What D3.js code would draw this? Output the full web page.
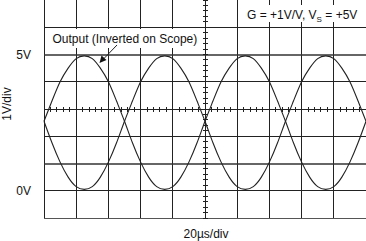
<!DOCTYPE html>
<html><head><meta charset="utf-8">
<script src="https://cdn.jsdelivr.net/npm/d3@7"></script>
<style>
html,body{margin:0;padding:0;background:#fff;}
svg{display:block;font-family:"Liberation Sans",Arial,Helvetica,sans-serif;}
</style></head>
<body>
<svg id="c" width="366" height="241"></svg>
<script>
// ---- data ----
const timeUs = [0,5,10,15,20,25,30,35,40,45,50,55,60,65,70,75,80,85,90,95,100,
                105,110,115,120,125,130,135,140,145,150,155,160,165,170,175,180,185,190,195,200];
const traceA = [2.55,3.3,4.0,4.5,4.85,4.95,4.85,4.5,4.0,3.3,2.55,1.75,1.05,0.5,0.15,0.05,0.15,0.5,1.05,1.75,2.55,
                3.3,4.0,4.5,4.85,4.95,4.85,4.5,4.0,3.3,2.55,1.75,1.05,0.5,0.15,0.05,0.15,0.5,1.05,1.75,2.55];
const traceB = [2.55,1.75,1.05,0.5,0.15,0.05,0.15,0.5,1.05,1.75,2.55,3.3,4.0,4.5,4.85,4.95,4.85,4.5,4.0,3.3,2.55,
                1.75,1.05,0.5,0.15,0.05,0.15,0.5,1.05,1.75,2.55,3.3,4.0,4.5,4.85,4.95,4.85,4.5,4.0,3.3,2.55];
const xDivs = [0,20,40,60,80,100,120,140,160,180];
const yDivs = [0,1,2,3,4,5,6];
const thickDivs = [1,5];
const yLabels = [{v:5,t:"5V"},{v:0,t:"0V"}];
const xTitle = "20µs/div";
const yTitle = "1V/div";
const annotation = "Output (Inverted on Scope)";
const legendMain = "G = +1V/V, V";
const legendSub = "S";
const legendTail = " = +5V";

// ---- scales ----
const svg = d3.select("#c");
const x = d3.scaleLinear().domain([0,200]).range([44,366]);
const y = d3.scaleLinear().domain([-1,7]).range([218,0]);
const crisp = v => Math.floor(v)+0.5;

const g = svg.append("g");
// vertical grid
g.selectAll("line.vx").data(xDivs).join("line")
  .attr("x1",d=>crisp(x(d))).attr("x2",d=>crisp(x(d)))
  .attr("y1",0).attr("y2",218)
  .attr("stroke","#222").attr("stroke-width",1);
// horizontal grid
g.selectAll("line.hy").data(yDivs).join("line")
  .attr("x1",44).attr("x2",366)
  .attr("y1",d=>thickDivs.includes(d)?Math.round(y(d)):crisp(y(d)))
  .attr("y2",d=>thickDivs.includes(d)?Math.round(y(d)):crisp(y(d)))
  .attr("stroke",d=>thickDivs.includes(d)?"#333":"#222").attr("stroke-width",d=>thickDivs.includes(d)?1.7:1);
// bottom border
g.append("line").attr("x1",44).attr("x2",366).attr("y1",crisp(y(-1))).attr("y2",crisp(y(-1)))
  .attr("stroke","#555").attr("stroke-width",1);

// minor ticks on center axes
const xMinor = d3.range(0,200.01,4);
g.selectAll("line.mx").data(xMinor).join("line")
  .attr("x1",d=>crisp(x(d))).attr("x2",d=>crisp(x(d)))
  .attr("y1",crisp(y(3))-2.5).attr("y2",crisp(y(3))+2.5)
  .attr("stroke","#222").attr("stroke-width",1);
const yMinor = d3.range(-1,7.01,0.2);
g.selectAll("line.my").data(yMinor).join("line")
  .attr("y1",d=>crisp(y(d))).attr("y2",d=>crisp(y(d)))
  .attr("x1",crisp(x(100))-2.5).attr("x2",crisp(x(100))+2.5)
  .attr("stroke","#222").attr("stroke-width",1);

// traces
const line = d3.line().x((d,i)=>x(timeUs[i])).y(d=>y(d)).curve(d3.curveNatural);
[traceA,traceB].forEach(tr=>{
  svg.append("path").attr("d",line(tr)).attr("fill","none")
    .attr("stroke","#222").attr("stroke-width",1.1);
});

// legend box
svg.append("rect").attr("x",238.5).attr("y",5).attr("width",128).attr("height",17).attr("fill","#fff");
const lt = svg.append("text").attr("x",247).attr("y",18.5).attr("font-size",12).attr("fill","#111");
lt.append("tspan").text(legendMain);
lt.append("tspan").attr("font-size",8).attr("dy",3).text(legendSub);
lt.append("tspan").attr("dy",-3).text(legendTail);

// annotation
svg.append("rect").attr("x",49).attr("y",29).attr("width",152).attr("height",19).attr("fill","#fff");
svg.append("text").attr("x",52.5).attr("y",43).attr("font-size",12).attr("fill","#111").text(annotation);
svg.append("line").attr("x1",117).attr("y1",45).attr("x2",104).attr("y2",58.5)
  .attr("stroke","#222").attr("stroke-width",1);
svg.append("path").attr("d","M99.5,63 L101.5,55.5 L106.5,60 Z").attr("fill","#111");

// axis labels
svg.selectAll("text.yl").data(yLabels).join("text")
  .attr("x",31).attr("y",d=>y(d.v)+4.5).attr("text-anchor","end")
  .attr("font-size",12).attr("fill","#111").text(d=>d.t);
svg.append("text").attr("x",206).attr("y",238).attr("text-anchor","middle")
  .attr("font-size",12).attr("fill","#111").text(xTitle);
svg.append("text").attr("transform","translate(11,104) rotate(-90)").attr("text-anchor","middle")
  .attr("font-size",12).attr("fill","#111").text(yTitle);
</script>
</body></html>
